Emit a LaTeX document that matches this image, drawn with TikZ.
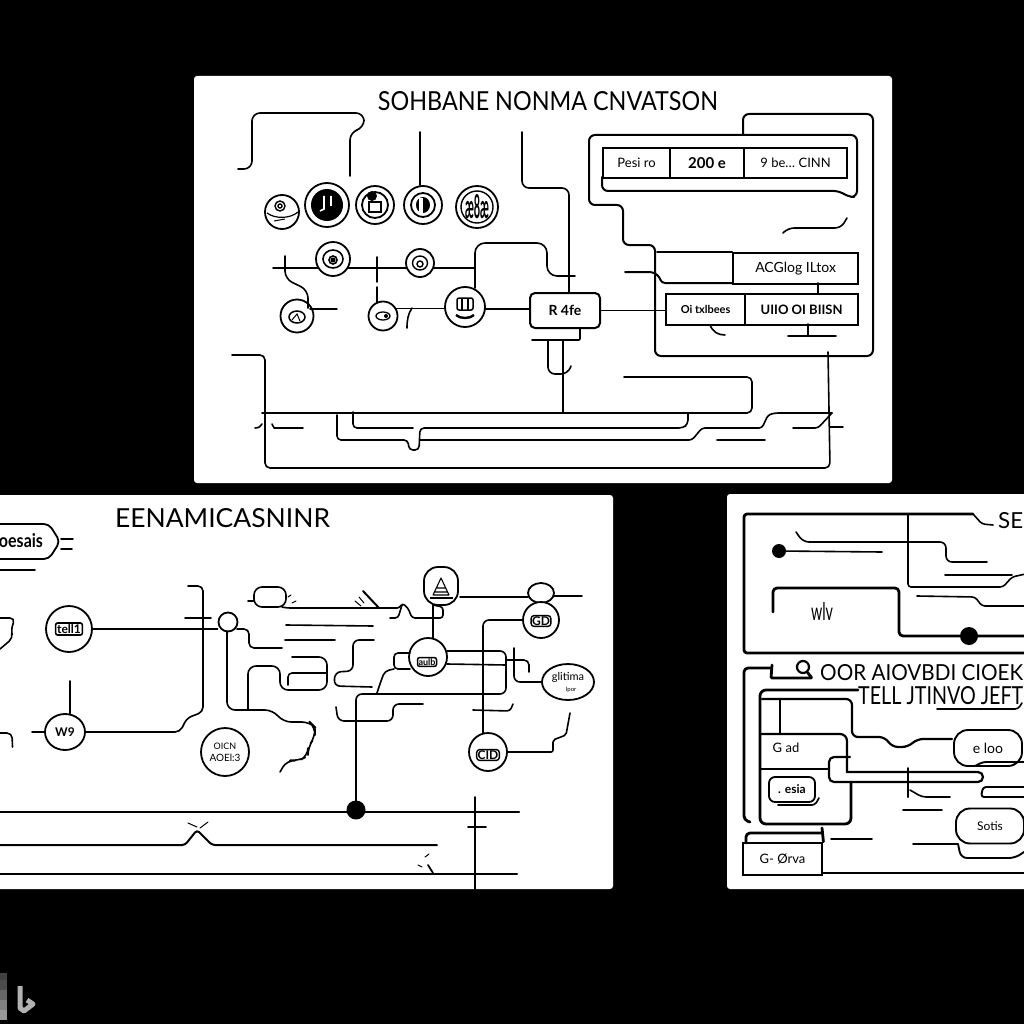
\documentclass[tikz,border=0pt]{standalone}
\usepackage{fontspec}
\setmainfont{Lato}
\usetikzlibrary{shapes.geometric}
\tikzset{
 panel/.style={fill=white,draw=none,rounded corners=3pt},
 wire/.style={line width=1.6pt,rounded corners=4pt,line cap=round,line join=round,draw=black},
 wirethick/.style={line width=2.8pt,rounded corners=4pt,line cap=round,line join=round,draw=black},
 circ/.style={circle,draw=black,line width=1.8pt,fill=white,inner sep=0pt,align=center},
 tbox/.style={rectangle,draw=black,line width=2.2pt,fill=white,inner sep=0pt,align=center},
 pill/.style={rounded corners=9pt,draw=black,line width=1.8pt,fill=white,inner sep=0pt,align=center,rectangle},
 dot/.style={circle,fill=black,inner sep=0pt},
 ttl/.style={inner sep=0pt,font=\fontsize{25}{25}\selectfont},
 tiny/.style={inner sep=0pt,align=center,font=\fontsize{9.5}{10}\selectfont\bfseries},
}
\begin{document}
\begin{tikzpicture}[x=1pt,y=-1pt]
\useasboundingbox (0,0) rectangle (1024,1024);
\fill[black] (0,0) rectangle (1024,1024);
\clip (0,0) rectangle (1024,1024);
% panels
\fill[panel] (194,76) rectangle (892,483);
\fill[panel] (-8,495) rectangle (613,889);
\fill[panel] (727,494) rectangle (1035,889);
% logo
\foreach \yy/\gg in {973/75,980/70,990/60,1000/50,1010/40}{\fill[black!\gg] (0,\yy) rectangle (7,\yy+10);}
\fill[black] (7,973) rectangle (8,1020);
\draw[black!30,line width=5pt,line join=round] (20,986) -- (20,1008) -- (24,1011) -- (33,1004) -- (27,1000);

%%% PANEL 1
\node[ttl] (t1) at (548,101) {\resizebox{340pt}{19pt}{SOHBANE NONMA CNVATSON}};
% circles
\node[circ,minimum size=34pt] (c1) at (282,212) {};
\node[circ,minimum size=44pt] (c2) at (327,205) {};
\node[circ,minimum size=38pt] (c3) at (375,205) {};
\node[circ,minimum size=38pt] (c4) at (423,205) {};
\node[circ,minimum size=42pt] (c5) at (477,207) {};
\node[circ,minimum size=33pt] (c8) at (297,316) {};
\node[circ,minimum size=29pt] (c9) at (383,316) {};
\node[circ,minimum size=40pt] (c10) at (465,307) {};
% circle glyphs
\draw[line width=1.4pt] (280,206) circle (5pt) (280,206) circle (2pt);
\draw[line width=1.2pt] (267,213) .. controls (275,219) and (290,219) .. (298,212);
\draw[line width=1pt] (274,221) -- (285,219);
\fill (327,205) circle (16pt);
\draw[white,line width=1.6pt] (324,196) -- (324,209) -- (320,211) (331,196) -- (331,206);
\draw[line width=1.8pt] (375,205) circle (13pt);
\fill (372,196) circle (5pt);
\draw[line width=1.5pt,fill=white] (369,202) rectangle (381,212);
\draw[line width=1.8pt] (423,205) circle (12pt);
\fill (423,205) ellipse (7pt and 8pt);
\fill[white] (419,198) rectangle (423,213);
\draw[line width=1.4pt] (477,207) circle (16pt);
\node[tiny,font=\fontsize{11}{11}\selectfont\bfseries] (g5) at (477,207) {\resizebox{24pt}{24pt}{æ8æ}};
\draw[line width=1.5pt] (297,317) ellipse (8pt and 6pt);
\draw[line width=1pt] (292,320) -- (297,314) -- (300,321);
\draw[line width=1.3pt] (383,316) ellipse (7pt and 4pt);
\fill (386,316) circle (2pt);
\draw[line width=1.5pt,rounded corners=2pt] (457,298) rectangle (473,310);
\draw[line width=1.1pt] (462,298) -- (462,310) (468,298) -- (468,310);
\draw[line width=2.4pt] (456,315) .. controls (460,319) and (470,319) .. (474,315);
% tables and box
\node[tbox,line width=2pt,rounded corners=5pt,minimum width=70pt,minimum height=35pt] (b1) at (565,310.5) {\fontsize{14}{14}\selectfont\bfseries R 4fe};
\node[tbox,minimum width=67pt,minimum height=30pt,anchor=north west] (r1) at (602,147) {\fontsize{13}{13}\selectfont Pesi ro};
\node[tbox,minimum width=74pt,minimum height=30pt,anchor=north west] (r2) at (669,147) {\fontsize{15}{15}\selectfont\bfseries 200 e};
\node[tbox,minimum width=103pt,minimum height=30pt,anchor=north west] (r3) at (743,147) {\fontsize{13}{13}\selectfont 9 be\ldots\ CINN};
\node[tbox,minimum width=125pt,minimum height=31pt,anchor=north west] (r5) at (732,252) {\fontsize{14}{14}\selectfont ACGlog  ILtox};
\node[tbox,minimum width=79pt,minimum height=31pt,anchor=north west] (r6) at (665,293) {\fontsize{11}{11}\selectfont\bfseries Oi txlbees};
\node[tbox,minimum width=113pt,minimum height=31pt,anchor=north west] (r7) at (744,293) {\fontsize{13}{13}\selectfont\bfseries UIIO OI BIISN};
\draw[wire,line width=2pt] (657,252) -- (732,252);
\draw[wire,line width=2pt,rounded corners=3pt] (625,272) -- (652,272) -- (658,275) -- (662,283) -- (732,283);
\draw[wire] (818,283) -- (818,293);
\draw[wire] (710,325) .. controls (713,332) and (718,335) .. (725,335);
\draw[wire] (808,324) -- (808,336) (788,336) -- (836,336);
% frames
\draw[wire,line width=2pt,rounded corners=6pt] (743,134) -- (743,114) -- (873,114) -- (873,356) -- (655,356) -- (655,245) -- (623,245) -- (623,205) -- (589,205) -- (589,135) -- (857,135) -- (857,197) -- (848,197) -- (840,191) -- (602,191) -- (602,177);
\draw[wire,rounded corners=6pt] (783,233) -- (788,228) -- (841,228) -- (847,218);
% wires row 1
\draw[wire,rounded corners=8pt] (238,169) -- (252,169) -- (252,113) -- (364,113) -- (364,128) -- (350,132) -- (350,176);
\coordinate (a1) at (420,132);
\draw[wire] (a1) -- (c4.north -| a1);
% row 2
\coordinate (a2) at (273,268);
\coordinate (a3) at (475,268);
\draw[wire] (a2) -- (a3);
\node[circ,minimum size=34pt] (c6) at (333,259) {};
\node[circ,minimum size=28pt] (c7) at (420,263) {};
\draw[line width=1.6pt] (333,259) ellipse (10pt and 9pt) (333,260) circle (4pt);
\fill (333,260) circle (2.5pt);
\draw[line width=1.4pt] (420,263) ellipse (7.5pt and 7pt) (420,264) circle (3pt);
\draw[wire,rounded corners=8pt] (285,256) -- (285,279) -- (308,290) -- (308,308);
\draw[wire] (310,309) -- (337,309);
\draw[wire] (377,257) -- (377,282);
\draw[wire] (377,287) -- (377,303);
\draw[wire] (c9.29) -- (c9.29 -| c10.west);
\draw[wire] (412,308) .. controls (408,314) and (407,320) .. (407,328);
\draw[wire] (c10.-6) -- (c10.-6 -| b1.west);
\draw[wire,rounded corners=10pt] (475,288) -- (475,243) -- (547,243) -- (547,276) -- (575,276);
\draw[wire,rounded corners=7pt] (522,132) -- (522,188) -- (569,188) -- (569,293);
\draw[wire] (b1.east) -- (b1.east -| r6.west);
% below box
\draw[wire,rounded corners=1pt] (580,328) -- (580,340) -- (532,340);
\draw[wire] (563,340) -- (563,413);
\draw[wire,rounded corners=7pt] (548,340) -- (548,374) -- (568,374) -- (571,366);
% bus
\draw[wire,rounded corners=5pt] (262,413) -- (752,413) -- (752,377) -- (624,377);
\draw[wire,rounded corners=5pt] (232,355) -- (265,355) -- (265,468) -- (830,468) -- (828,352);
\draw[wire] (255,428) .. controls (259,428) and (261,426) .. (262,424);
\draw[wire] (272,424) .. controls (273,427) and (275,428) .. (278,428) -- (303,428);
\draw[wire,rounded corners=4pt] (337,415) -- (337,440) -- (408,440) -- (409,450) -- (419,450) -- (420,428) -- (683,428) -- (688,424) -- (688,414);
\draw[wire,rounded corners=4pt] (353,412) -- (353,428) -- (413,428);
\draw[wire,rounded corners=3pt] (420,440) -- (692,440) -- (702,428) -- (762,428) -- (768,415) -- (775,413) -- (832,413);
\draw[wire,rounded corners=3pt] (793,428) -- (818,428) -- (832,413);
\draw[wire] (830,427) -- (843,427);
\draw[wire] (717,440) -- (765,440);

%%% PANEL 2
\node[ttl] (t2) at (222.5,518.5) {\resizebox{215pt}{19pt}{EENAMICASNINR}};
% pill top-left
\draw[wire,line width=1.8pt,rounded corners=5pt,fill=white] (-15,524) -- (49,524) -- (60,541.5) -- (49,559) -- (-15,559) -- cycle;
\node[tiny] (pl) at (21,541) {\resizebox{44pt}{14pt}{oesais}};
\draw[wire] (61,539) -- (73,539) (61,549) -- (72,549) (0,570) -- (35,570);
\draw[wire,rounded corners=5pt] (0,618) -- (15,618) -- (11,630) -- (13,638) -- (0,649);
\draw[wire,rounded corners=5pt] (0,733) -- (12,733) -- (12.5,747);
% circles
\node[circ,minimum size=46pt] (d1) at (69,629) {};
\node[draw,line width=1.6pt,inner sep=1.5pt,rounded corners=2pt,font=\fontsize{12}{12}\selectfont\bfseries] (g1) at (69,629) {tell1};
\node[circ,ellipse,minimum width=40pt,minimum height=36pt] (d2) at (65,732) {\fontsize{12}{12}\selectfont\bfseries W9};
\node[circ,minimum size=48pt] (d3) at (225,752) {\fontsize{9}{11}\selectfont OICN\\ AOEl:3};
\node[circ,minimum size=19pt] (d4) at (228,622) {};
\node[pill,minimum width=34pt,minimum height=38pt,rounded corners=14pt] (d5) at (441,586) {};
\draw[line width=1.1pt,line join=round] (441,578) -- (433,595) -- (449,595) -- cycle (437,588) -- (445,588) (435,592) -- (447,592);
\draw[line width=1.5pt] (430,598) -- (453,598);
\node[circ,minimum size=38pt] (d6) at (428,657) {};
\node[draw,line width=1.5pt,inner sep=1pt,rounded corners=2pt,font=\fontsize{9}{9}\selectfont\bfseries] (g6) at (427,662) {aulb};
\node[circ,ellipse,minimum width=26pt,minimum height=20pt] (d7) at (541,593) {};
\node[circ,minimum size=36pt] (d8) at (541,620) {};
\node[draw,line width=1.4pt,inner sep=1pt,rounded corners=3pt,font=\fontsize{12}{12}\selectfont\bfseries] (g8) at (541,621) {GD};
\node[circ,ellipse,minimum width=52pt,minimum height=36pt] (d9) at (568,682) {\fontsize{11}{9}\selectfont glitima\\[-1pt]\fontsize{6}{6}\selectfont\ \ \ \ Ipor};
\node[circ,minimum size=38pt] (d10) at (488,752) {};
\node[draw,line width=1.4pt,inner sep=1pt,rounded corners=3pt,font=\fontsize{12}{12}\selectfont\bfseries] (g10) at (488,755) {CID};
\node[pill,rounded corners=8pt,minimum width=32pt,minimum height=20pt,line width=1.6pt] (d11) at (270,597) {};
% wires
\draw[wire] (d1.east) -- (d1.east -| d4.west);
\draw[wire] (185,618) -- (211,618);
\draw[wire,rounded corners=5pt] (188,586) -- (203,586) -- (203,712) -- (187,718) -- (180,732) -- (d2.east);
\draw[wire] (70,681) -- (70,714) (32,732) -- (45,732);
\draw[wire,rounded corners=8pt] (227,631) -- (227,710) -- (273,710) -- (283,722) -- (310,722) -- (315,727) -- (315,737) -- (308,747) -- (308,756) -- (298,761) -- (287,760) -- (280,772);
\draw[wire,rounded corners=5pt] (237,629) -- (249,629) -- (249,648) -- (282,648);
\draw[wire,rounded corners=8pt] (248,710) -- (248,666) -- (280,666) -- (280,690) -- (327,690) -- (327,657) -- (292,657);
\draw[wire] (288,685) -- (288,673) -- (327,673);
\draw[wire] (286,625) -- (373,626) (285,640) -- (335,640);
\draw[wire,rounded corners=2pt] (248,601) -- (254,601);
\draw[wire,rounded corners=3pt] (282,607) -- (287,608) -- (400,608) -- (402,603) -- (408,608) -- (412,618) -- (443,618) -- (443,607) -- (433,605);
\draw[wire,rounded corners=3pt] (390,618) -- (398,618) -- (402,605);
\draw[wire,line width=2pt] (363,591) -- (379,608);
\draw[wire,line width=1pt] (355,601) -- (361,606) (359,597) -- (364,603) (288,597) -- (291,595) (292,603) -- (296,601);
\draw[wire] (433,605) -- (433,638);
\draw[wire] (460,597) -- (528,597);
\draw[wire] (554,596) -- (582,596);
\draw[wire,rounded corners=6pt] (d8.west) -- (483,620) -- (483,733);
\draw[wire,rounded corners=2pt] (d10.east) -- (553,752) -- (553,740) -- (566,735) -- (570,713);
\draw[wire,rounded corners=6pt] (d9.west) -- (514,682) -- (514,648);
\draw[wire,rounded corners=5pt] (507,660) -- (529,660) -- (529,672);
\draw[wire,rounded corners=6pt] (447,651) -- (506,651) -- (506,694) -- (356,694) -- (356,810);
\draw[wire,rounded corners=6pt] (447,664) -- (506,665);
\draw[wire,rounded corners=4pt] (410,653) -- (394,653) -- (394,669) -- (410,669);
\draw[wire,rounded corners=4pt] (394,669) -- (385,671) -- (382,678) -- (377,693);
\draw[wire,rounded corners=6pt] (374,640) -- (353,640) -- (353,671) -- (335,672) -- (334,686) -- (372,687);
\draw[wire,rounded corners=6pt] (336,707) -- (338,721) -- (393,721) -- (393,704) -- (423,704);
\draw[wire,rounded corners=3pt] (473,710) -- (510,711) -- (513,704);
% bottom lines
\node[dot,minimum size=19pt] (d12) at (356,810) {};
\draw[wire,line width=2.2pt] (-3,812) -- (519,812);
\draw[wire,line width=2pt,rounded corners=3pt] (-3,845) -- (185,845) -- (197,830) -- (212,845) -- (437,845);
\draw[wire,line width=2.2pt] (-3,874) -- (517,874);
\draw[wire] (475,797) -- (475,889) (468,827) -- (486,827);
\draw[wire,line width=1pt] (188,823) -- (197,827) (208,822) -- (200,828) (425,857) -- (429,854) (418,865) -- (422,867);
\draw[wire,line width=1.8pt] (428,865) -- (433,873);

%%% PANEL 3
\node[ttl,anchor=west] (t3) at (998,521) {\resizebox{25pt}{16pt}{SE}};
\draw[wirethick,rounded corners=3pt] (1030,653) -- (744,653) -- (744,514) -- (973,514);
\draw[wire,rounded corners=3pt] (973,514) -- (982,524) -- (993,525);
\node[dot,minimum size=14pt] (e1) at (779,551) {};
\coordinate (e1a) at (882,552);
\draw[wire] (e1) -- (e1a);
\draw[wire,rounded corners=3pt] (908,514) -- (908,587) -- (1003,587) -- (1012,577) -- (1030,573);
\draw[wire,rounded corners=3pt] (945,575) -- (1012,575);
\draw[wire,rounded corners=6pt] (796,532) -- (803,542) -- (946,542) -- (946,562) -- (987,562);
\draw[wire,rounded corners=3pt] (917,596) -- (975,597) -- (982,606) -- (1030,606);
\node[dot,minimum size=18pt] (e2) at (969,636) {};
\draw[wirethick] (773,612) -- (773,588) -- (899,588) -- (899,636) -- (1030,636);
\node[tiny,font=\fontsize{10}{10}\selectfont] (sp) at (822,611) {\resizebox{22pt}{18pt}{wlv}};
% lower title
\node[ttl,anchor=west] (t4) at (820,673) {\resizebox{203pt}{16pt}{OOR AIOVBDI CIOEK}};
\node[ttl,anchor=west] (t5) at (858,696) {\resizebox{165pt}{18pt}{TELL JTINVO JEFT}};
\draw[wire,rounded corners=3pt] (937,709) -- (1018,709) -- (1022,703);
\node[circ,minimum size=12pt,line width=2.2pt] (e3) at (803,667) {};
\draw[wirethick,rounded corners=4pt] (750,822) -- (744,820) -- (744,668) -- (770,668);
\draw[wirethick,rounded corners=1pt] (772,665) -- (771,678) -- (812,678) -- (e3);
% big box
\draw[wirethick,rounded corners=6pt] (858,690) -- (760,690) -- (760,824) -- (851,824) -- (851,783);
\draw[wire,line width=2.2pt,rounded corners=6pt] (762,699) -- (852,699) -- (852,737) -- (885,737) -- (892,747) -- (908,747) -- (917,739) -- (952,739);
\draw[wirethick,line width=2.2pt] (780,699) -- (780,733);
\draw[wirethick,line width=2.2pt,rounded corners=7pt] (760,734) -- (847,734) -- (847,772);
\draw[wire,line width=2pt] (760,769) -- (828,769);
\draw[wirethick,line width=2.2pt,rounded corners=5pt] (850,757) -- (829,757) -- (829,782) -- (983,782) -- (983,772) -- (847,772);
\node[tiny,font=\fontsize{13}{13}\selectfont] (g9) at (786,748) {G ad};
\node[pill,rounded corners=6pt,line width=1.8pt,minimum width=46pt,minimum height=25pt] (e4) at (792,789.5) {\fontsize{12}{12}\selectfont\bfseries . esia};
\draw[wire,rounded corners=3pt] (778,805) -- (815,805) -- (819,798);
\draw[wire,line width=2pt] (908,768) -- (908,797);
\draw[wire,rounded corners=4pt] (910,790) -- (922,797) -- (950,797);
\draw[wire] (903,810) -- (942,810) (831,839) -- (872,839);
% pills
\node[pill,rounded corners=14pt,minimum width=68pt,minimum height=36pt,line width=1.9pt] (e5) at (988,748) {\fontsize{14}{14}\selectfont e loo};
\draw[wire,line width=1.9pt,rounded corners=3pt] (975,766) -- (983,762) -- (1030,762);
\node[pill,rounded corners=14pt,minimum width=68pt,minimum height=35pt,line width=1.9pt] (e6) at (990,826) {\fontsize{12}{12}\selectfont Sotis};
\draw[wire,line width=1.9pt,rounded corners=3pt] (1030,787) -- (983,787) -- (981,797) -- (1030,797);
\draw[wire] (913,844) -- (958,844);
\draw[wire,line width=1.9pt,rounded corners=6pt] (958,844) -- (961,858) -- (1015,858) -- (1024,852);
\node[tbox,line width=2.8pt,minimum width=79pt,minimum height=32pt] (e7) at (782.5,859) {\fontsize{13}{13}\selectfont G- Ørva};
\draw[wirethick,rounded corners=4pt] (746,843) -- (746,833) -- (822,833);
\draw[wirethick] (822,828) -- (e7.north east);
\draw[wire,line width=2pt] (822,873) -- (1030,873);
\end{tikzpicture}
\end{document}
